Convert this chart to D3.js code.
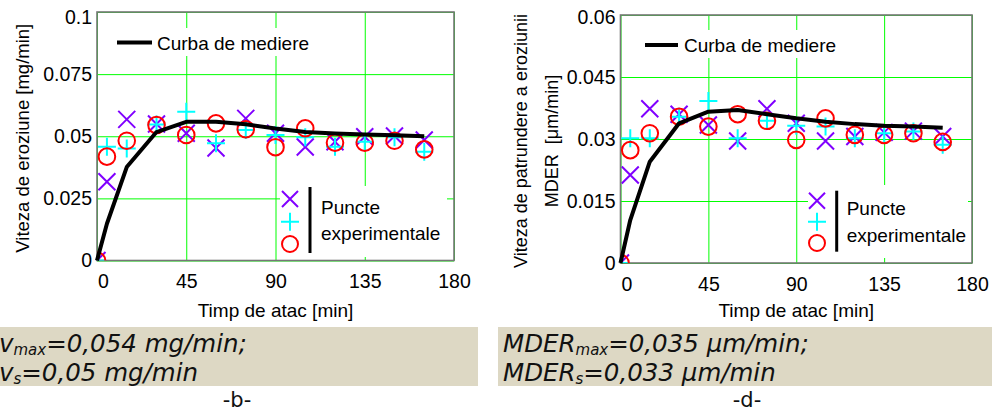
<!DOCTYPE html>
<html>
<head>
<meta charset="utf-8">
<script src="https://cdn.jsdelivr.net/npm/d3@7"></script>
<style>
  html, body { margin: 0; padding: 0; background: #fff; }
  svg { display: block; }
  text { font-family: "Liberation Sans", Arial, sans-serif; fill: #000; }
  .note { font-family: "DejaVu Sans", Verdana, sans-serif; font-style: italic; fill: #111; }
  .caption { font-family: "DejaVu Sans", Verdana, sans-serif; fill: #111; }
</style>
</head>
<body>
<svg id="fig" width="992" height="414"></svg>
<script>
// Sampling times [min], shared by both panels
const time = [0, 5, 15, 30, 45, 60, 75, 90, 105, 120, 135, 150, 165];
const xTicks = [0, 45, 90, 135, 180];

// Panel b: erosion rate [mg/min]
const yTicksB = [0, 0.025, 0.05, 0.075, 0.1];
const yTickLabelsB = ["0", "0.025", "0.05", "0.075", "0.1"];
const curveB = [0, 0.0148, 0.0376, 0.0517, 0.0558, 0.0558, 0.0548, 0.0531, 0.0517, 0.0511, 0.0507, 0.0504, 0.0500];
const crossB = [0, 0.0317, 0.0568, 0.0549, 0.0512, 0.0453, 0.0572, 0.0512, 0.0457, 0.0478, 0.0498, 0.0501, 0.0485];
const plusB = [0, 0.0458, 0.0451, 0.0547, 0.0599, 0.0472, 0.0525, 0.0505, 0.0496, 0.0458, 0.0478, 0.0496, 0.0438];
const circleB = [0, 0.0418, 0.0482, 0.0545, 0.0505, 0.0552, 0.0528, 0.0456, 0.0532, 0.0474, 0.0474, 0.0482, 0.0447];

// Panel d: mean depth of erosion rate MDER [µm/min]
const yTicksD = [0, 0.015, 0.03, 0.045, 0.06];
const yTickLabelsD = ["0", "0.015", "0.03", "0.045", "0.06"];
const curveD = [0, 0.0104, 0.0245, 0.0338, 0.0366, 0.0370, 0.0360, 0.0350, 0.0342, 0.0336, 0.0332, 0.0330, 0.0327];
const crossD = [0, 0.0213, 0.0373, 0.0360, 0.0334, 0.0295, 0.0373, 0.0338, 0.0295, 0.0306, 0.0316, 0.0319, 0.0306];
const plusD = [0, 0.0302, 0.0302, 0.0354, 0.0392, 0.0302, 0.0344, 0.0332, 0.0330, 0.0302, 0.0314, 0.0318, 0.0286];
const circleD = [0, 0.0273, 0.0314, 0.0354, 0.0330, 0.0360, 0.0344, 0.0298, 0.0350, 0.0310, 0.0310, 0.0314, 0.0293];

// Texts
const xTitle = "Timp de atac [min]";
const curveLegend = "Curba de mediere";
const pointsLegend = ["Puncte", "experimentale"];
const yTitleB = ["Viteza de eroziune [mg/min]"];
const yTitleD = ["Viteza de patrundere a eroziunii", "MDER  [\u03bcm/min]"];

const COLORS = { cross: "#8000ff", plus: "#00ffff", circle: "#ff0000", grid: "#00ff00", frame: "#767676" };

const svg = d3.select("#fig");

const panels = [
  {
    box: { L: 97, T: 12, R: 454, B: 260.5 }, yMax: 0.1,
    yTicks: yTicksB, yLabels: yTickLabelsB,
    curve: curveB, cross: crossB, plus: plusB, circle: circleB,
    yTitle: yTitleB, yTitleX: [22], yTitleSize: 18.5,
    leg1: { x1: 117, x2: 152, y: 42.5, tx: 157, bg: [110, 28, 212, 28] },
    leg2: { mx: 290, my: [199, 221.7, 244], lx: 310, ly: [187, 253], tx: 321, ty: [213.5, 240], bg: [280, 186, 167, 71] }
  },
  {
    box: { L: 620.5, T: 15, R: 972, B: 263 }, yMax: 0.06,
    yTicks: yTicksD, yLabels: yTickLabelsD,
    curve: curveD, cross: crossD, plus: plusD, circle: circleD,
    yTitle: yTitleD, yTitleX: [521, 552], yTitleSize: 18,
    leg1: { x1: 645, x2: 678, y: 45, tx: 684, bg: [638, 30, 206, 28] },
    leg2: { mx: 817, my: [200.7, 221.7, 243], lx: 836.7, ly: [190.7, 251.7], tx: 846.7, ty: [215, 241.5], bg: [808, 185, 160, 73] }
  }
];

panels.forEach((p, i) => {
  const { L, T, R, B } = p.box;
  const x = d3.scaleLinear().domain([0, 180]).range([L, R]);
  const y = d3.scaleLinear().domain([0, p.yMax]).range([B, T]);
  const g = svg.append("g");

  const clipId = "clip" + i;
  svg.append("clipPath").attr("id", clipId)
    .append("rect").attr("x", L).attr("y", T).attr("width", R - L).attr("height", B - T);

  // vertical grid + x tick labels
  const gx = g.append("g").attr("transform", `translate(0,${B})`)
    .call(d3.axisBottom(x).tickValues(xTicks).tickSize(-(B - T)).tickPadding(14).tickFormat(d3.format("d")));
  gx.select(".domain").remove();
  gx.selectAll("line").attr("stroke", COLORS.grid).attr("stroke-width", 1);
  gx.selectAll("text").attr("font-size", 19.5).attr("fill", "#000")
    .attr("font-family", "Liberation Sans, Arial, sans-serif");
  // first label nudged inside the frame
  gx.selectAll(".tick").filter(d => d === 0).select("text").attr("x", 6);

  // horizontal grid + y tick labels
  const gy = g.append("g").attr("transform", `translate(${L},0)`)
    .call(d3.axisLeft(y).tickValues(p.yTicks).tickSize(-(R - L)).tickPadding(5)
      .tickFormat((d, k) => p.yLabels[k]));
  gy.select(".domain").remove();
  gy.selectAll("line").attr("stroke", COLORS.grid).attr("stroke-width", 1);
  gy.selectAll("text").attr("font-size", 19.5).attr("fill", "#000")
    .attr("font-family", "Liberation Sans, Arial, sans-serif");
  // keep the top label from rising above the canvas margin
  gy.selectAll(".tick").filter(d => d === p.yMax).select("text")
    .attr("y", Math.max(0, 10 + 6.8 - y(p.yMax)));

  // legend backgrounds
  [p.leg1.bg, p.leg2.bg].forEach(b => {
    g.append("rect").attr("x", b[0]).attr("y", b[1]).attr("width", b[2]).attr("height", b[3]).attr("fill", "#fff");
  });

  // frame
  g.append("rect").attr("x", L).attr("y", T).attr("width", R - L).attr("height", B - T)
    .attr("fill", "none").attr("stroke", COLORS.frame).attr("stroke-width", 1.6);

  // experimental points
  const pts = g.append("g").attr("clip-path", `url(#${clipId})`);
  const s = 8.5;
  pts.selectAll(".cross").data(p.cross).join("path").attr("class", "cross")
    .attr("d", (d, k) => { const cx = x(time[k]), cy = y(d); return `M${cx - s},${cy - s}L${cx + s},${cy + s}M${cx - s},${cy + s}L${cx + s},${cy - s}`; })
    .attr("stroke", COLORS.cross).attr("stroke-width", 2).attr("fill", "none");
  pts.selectAll(".plus").data(p.plus).join("path").attr("class", "plus")
    .attr("d", (d, k) => { const cx = x(time[k]), cy = y(d); return `M${cx - 9},${cy}L${cx + 9},${cy}M${cx},${cy - 9}L${cx},${cy + 9}`; })
    .attr("stroke", COLORS.plus).attr("stroke-width", 2).attr("fill", "none");
  pts.selectAll(".circle").data(p.circle).join("circle").attr("class", "circle")
    .attr("cx", (d, k) => x(time[k])).attr("cy", d => y(d)).attr("r", 8.3)
    .attr("stroke", COLORS.circle).attr("stroke-width", 2).attr("fill", "none");

  // averaging curve
  const line = d3.line().x((d, k) => x(time[k])).y(d => y(d));
  g.append("path").datum(p.curve).attr("d", line).attr("fill", "none")
    .attr("stroke", "#000").attr("stroke-width", 4).attr("stroke-linejoin", "round");

  // legend: curve
  g.append("line").attr("x1", p.leg1.x1).attr("x2", p.leg1.x2).attr("y1", p.leg1.y).attr("y2", p.leg1.y)
    .attr("stroke", "#000").attr("stroke-width", 4);
  g.append("text").attr("x", p.leg1.tx).attr("y", p.leg1.y + 7).attr("font-size", 19).text(curveLegend);

  // legend: experimental points
  const lg = p.leg2;
  g.append("path").attr("d", `M${lg.mx - 8},${lg.my[0] - 8}L${lg.mx + 8},${lg.my[0] + 8}M${lg.mx - 8},${lg.my[0] + 8}L${lg.mx + 8},${lg.my[0] - 8}`)
    .attr("stroke", COLORS.cross).attr("stroke-width", 2);
  g.append("path").attr("d", `M${lg.mx - 9},${lg.my[1]}L${lg.mx + 9},${lg.my[1]}M${lg.mx},${lg.my[1] - 9}L${lg.mx},${lg.my[1] + 9}`)
    .attr("stroke", COLORS.plus).attr("stroke-width", 2);
  g.append("circle").attr("cx", lg.mx).attr("cy", lg.my[2]).attr("r", 8)
    .attr("stroke", COLORS.circle).attr("stroke-width", 2).attr("fill", "none");
  g.append("line").attr("x1", lg.lx).attr("x2", lg.lx).attr("y1", lg.ly[0]).attr("y2", lg.ly[1])
    .attr("stroke", "#000").attr("stroke-width", 3);
  pointsLegend.forEach((t, k) => {
    g.append("text").attr("x", lg.tx).attr("y", lg.ty[k]).attr("font-size", 19).text(t);
  });

  // axis titles
  g.append("text").attr("x", (L + R) / 2).attr("y", 316.5).attr("text-anchor", "middle")
    .attr("font-size", 19).text(xTitle);
  p.yTitle.forEach((t, k) => {
    g.append("text").attr("transform", `translate(${p.yTitleX[k]},${(T + B) / 2 + 2}) rotate(-90)`)
      .attr("text-anchor", "middle").attr("dy", "0.36em").attr("font-size", p.yTitleSize)
      .style("white-space", "pre").text(t);
  });
});

// summary boxes under the panels
const notes = [
  { x: 0, w: 478, tx: -1, sym: "v", lines: [["max", "=0,054 mg/min;"], ["s", "=0,05 mg/min"]], cap: "-b-", cx: 237 },
  { x: 498, w: 494, tx: 503, sym: "MDER", lines: [["max", "=0,035 \u03bcm/min;"], ["s", "=0,033 \u03bcm/min"]], cap: "-d-", cx: 747 }
];
const noteBaselines = [351.5, 381];
notes.forEach(n => {
  svg.append("rect").attr("x", n.x).attr("y", 327).attr("width", n.w).attr("height", 59).attr("fill", "#ddd8c4");
  n.lines.forEach((ln, k) => {
    const t = svg.append("text").attr("class", "note").attr("x", n.tx).attr("y", noteBaselines[k]).attr("font-size", 24.5);
    t.append("tspan").text(n.sym);
    t.append("tspan").attr("font-size", 15).attr("dy", 3).text(ln[0]);
    t.append("tspan").attr("dy", -3).text(ln[1]);
  });
  svg.append("text").attr("class", "caption").attr("x", n.cx).attr("y", 407)
    .attr("text-anchor", "middle").attr("font-size", 21).text(n.cap);
});
</script>
</body>
</html>
